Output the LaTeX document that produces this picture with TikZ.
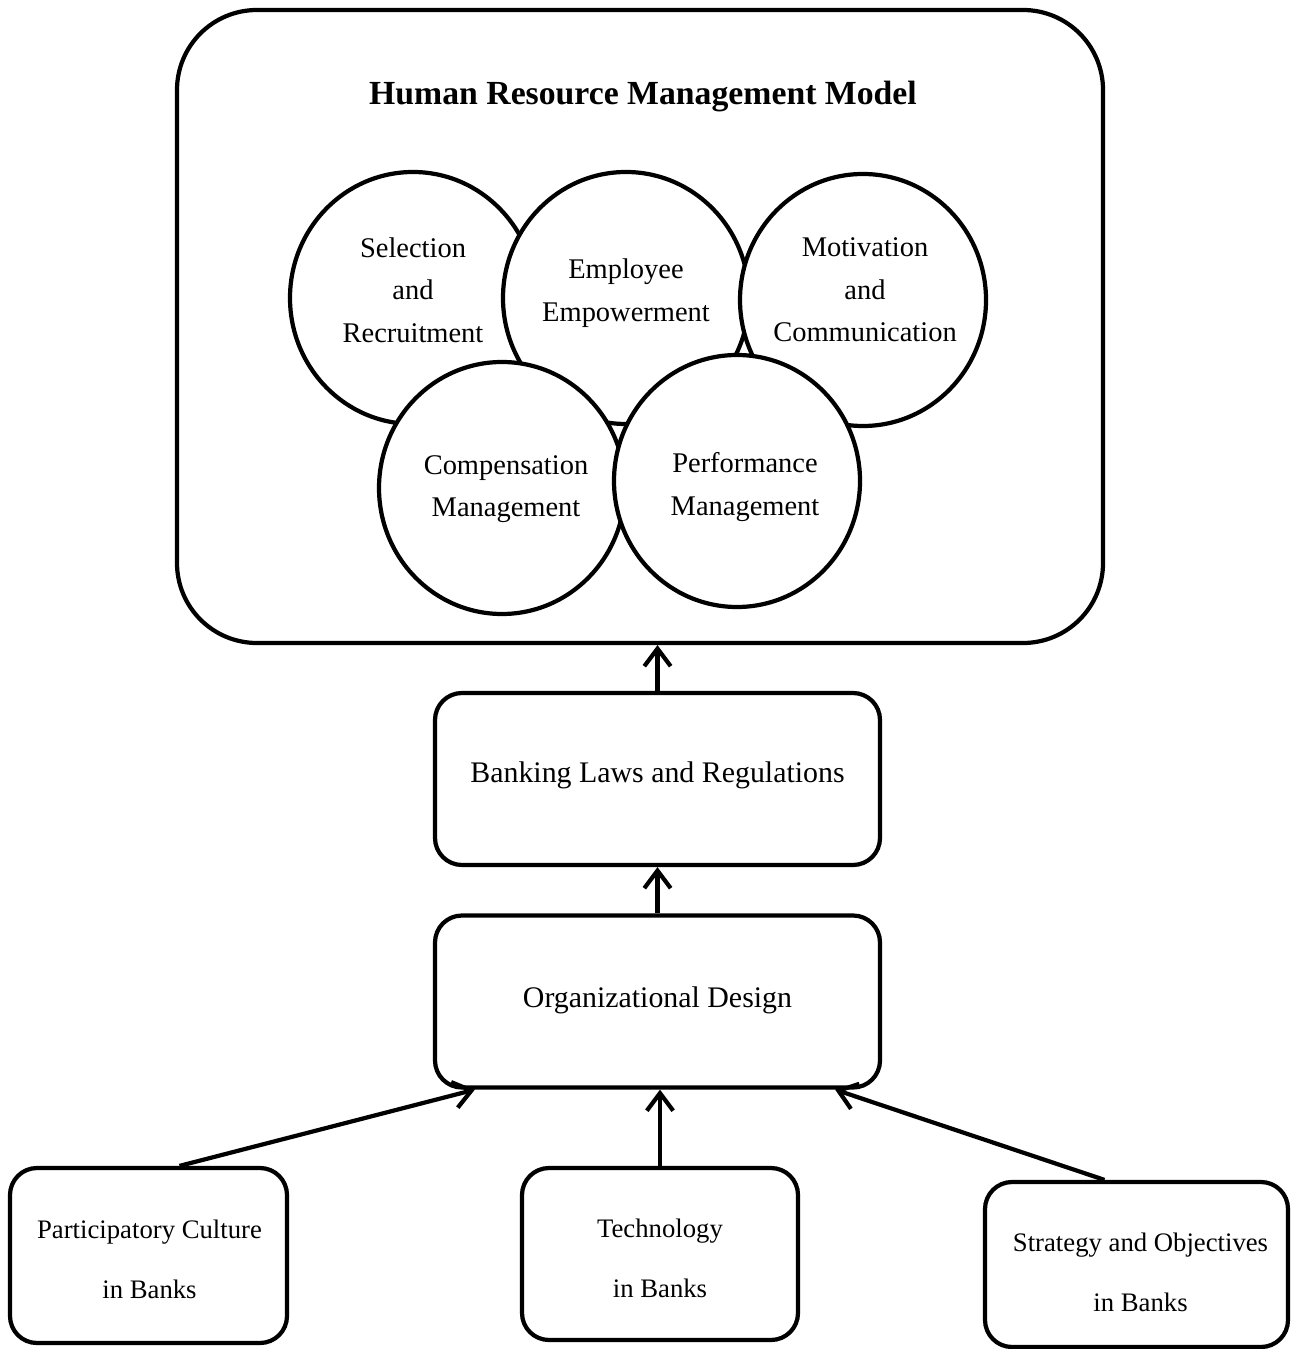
\documentclass[tikz,border=0pt]{standalone}
\usepackage{fontspec}
\setmainfont{Liberation Serif}
\usepackage{tikz}
\usetikzlibrary{calc,arrows.meta,shapes.geometric}
\tikzset{
  frame/.style={draw=black, line width=1.2pt, rounded corners=0.8cm},
  box/.style={draw=black, fill=white, line width=1.2pt, rounded corners=0.27cm, align=center, inner sep=0pt},
  midbox/.style={box, minimum width=4.45cm, minimum height=1.72cm},
  srcbox/.style={box},
  hrm/.style={ellipse, draw=black, fill=white, line width=1.2pt, minimum width=2.46cm, minimum height=2.52cm, inner sep=0pt},
  hrmtxt/.style={align=center, inner sep=0pt, font=\fontsize{8.1}{12.1}\selectfont},
  midtxt/.style={align=center, inner sep=0pt, font=\fontsize{8.5}{10}\selectfont},
  srctxt/.style={align=center, inner sep=0pt, font=\fontsize{7.6}{17}\selectfont},
  ttl/.style={font=\fontsize{9.6}{11}\selectfont\bfseries},
  arr/.style={draw=black, line width=1.2pt, -{Straight Barb[length=5pt,width=7.5pt]}},
}

\begin{document}
\begin{tikzpicture}
  \useasboundingbox (0,0) rectangle (12.95,-13.49);

  \node[frame, minimum width=9.26cm, minimum height=6.33cm] (model) at (6.40,-3.265) {};
  \node[ttl] (title) at (6.43,-0.97) {Human Resource Management Model};

  \node[hrm] (sel)  at (4.13,-2.98) {};
  \node[hrm] (emp)  at (6.26,-2.98) {};
  \node[hrm] (mot)  at (8.63,-3.00) {};
  \node[hrm] (comp) at (5.02,-4.88) {};
  \node[hrm] (perf) at (7.37,-4.81) {};
  \node[hrmtxt] (selT)  at ($(sel)+(0,0.08)$)  {Selection\\and\\Recruitment};
  \node[hrmtxt] (empT)  at ($(emp)+(0,0.05)$)  {Employee\\Empowerment};
  \node[hrmtxt] (motT)  at ($(mot)+(0.02,0.10)$) {Motivation\\and\\Communication};
  \node[hrmtxt] (compT) at ($(comp)+(0.04,-0.01)$) {Compensation\\Management};
  \node[hrmtxt] (perfT) at ($(perf)+(0.08,-0.06)$) {Performance\\Management};

  \node[midbox] (bank) at (6.575,-7.79)  {};
  \node[midbox] (org)  at (6.575,-10.015) {};
  \node[midtxt] (bankT) at ($(bank)+(0,0.04)$) {Banking Laws and Regulations};
  \node[midtxt] (orgT)  at ($(org)+(0,0.01)$)  {Organizational Design};

  \node[srcbox, minimum width=2.77cm, minimum height=1.75cm] (part)  at (1.485,-12.555) {};
  \node[srcbox, minimum width=2.76cm, minimum height=1.72cm] (tech)  at (6.60,-12.54)   {};
  \node[srcbox, minimum width=3.03cm, minimum height=1.65cm] (strat) at (11.365,-12.645) {};
  \node[srctxt] (partT)  at ($(part)+(0.01,-0.04)$)  {Participatory Culture\\in Banks};
  \node[srctxt] (techT)  at ($(tech)+(0,-0.04)$)     {Technology\\in Banks};
  \node[srctxt] (stratT) at ($(strat)+(0.04,-0.08)$) {Strategy and Objectives\\in Banks};

  \draw[arr] (bank.north) -- (bank.north |- model.south);
  \draw[arr] (org.north) -- (org.north |- bank.south);
  \draw[arr] (tech.north) -- (tech.north |- org.south);
  \draw[arr] ($(part.north)+(0.31,0)$) -- ($(org.south west)+(0.42,0)$);
  \draw[arr] ($(strat.north)+(-0.32,0)$) -- ($(org.south east)+(-0.47,0)$);
\end{tikzpicture}
\end{document}
